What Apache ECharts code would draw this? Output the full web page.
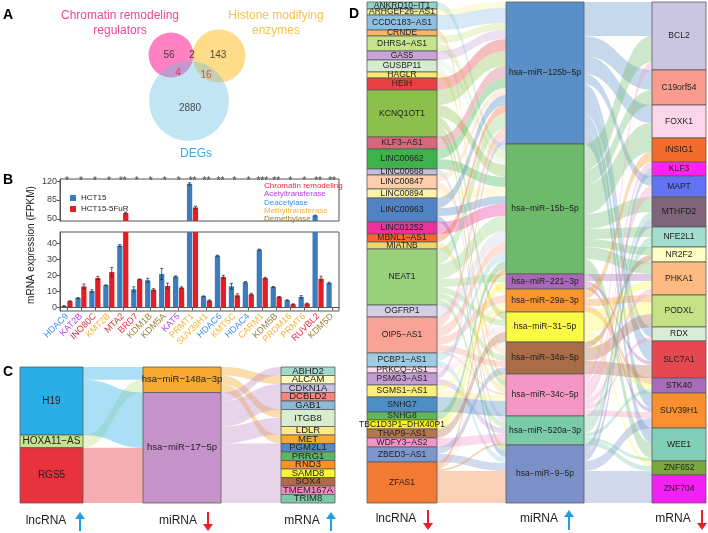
<!DOCTYPE html>
<html><head><meta charset="utf-8">
<script src="https://cdn.jsdelivr.net/npm/echarts@6/dist/echarts.min.js"></script>
<style>html,body{margin:0;padding:0;background:#fff}#c{width:708px;height:533px}</style>
</head><body><div id="c"></div>
<script>
// ================= DATA =================
// Panel A: Venn region counts (CR only, CR∩HM, HM only, CR∩DEG, HM∩DEG, DEG only)
const vennCounts = [56, 2, 143, 4, 16, 2880];

// Panel B
const genes = ['HDAC9','KAT2B','INO80C','KMT2B','MTA2','BRD7','KDM1B','KDM5A','KAT5','PRMT1','SUV39H1','HDAC6','KMT5C','HDAC4','CARM1','KDM5B','PRDM16','PRMT6','RUVBL2','KDM5D'];
const geneClass = ['DA','AT','CR','MT','CR','CR','DM','DM','AT','MT','MT','DA','MT','DA','MT','DM','MT','MT','CR','DM'];
const hct15    = [0.8, 5.8, 10.2, 13.8, 38.5, 11.3, 16.9, 20.8, 19.2, 115, 6.9, 32.2, 13.1, 15.6, 36, 12.7, 4.4, 6.5, 56, 15.2];
const hct15Err = [0.2, 0.3, 0.8, 0.2, 0.6, 1.5, 1.2, 3.5, 0.4, 2.0, 0.2, 0.3, 1.8, 0.5, 0.3, 0.3, 0.3, 0.8, 0.8, 0.5];
const hct15R    = [3.8, 13, 18.3, 22, 61, 17.5, 11, 13.3, 12.3, 71, 4.2, 19, 7.5, 8.1, 18.3, 6.5, 1.9, 2.3, 17.9, 0.1];
const hct15RErr = [0.3, 1.5, 1.0, 2.8, 1.5, 0.2, 0.6, 1.8, 0.5, 2.5, 0.4, 1.0, 0.9, 0.6, 0.5, 0.2, 0.3, 0.3, 1.5, 0.0];
const stars = ['*','*','*','*','**','*','*','*','*','**','**','**','*','*','***','**','*','*','**','**'];
const bTopTicks = [50, 85, 120];
const bBottomTicks = [0, 10, 20, 30, 40];
const classNames = ['Chromatin remodeling','Acetyltransferase','Deacetylase','Methyltransferase','Demethylase'];

// Panel C
const cLnc = ['H19','HOXA11-AS','RGS5'];
const cMi = ['hsa-miR-148a-3p','hsa-miR-17-5p'];
const cMrna = ['ABHD2','ALCAM','CDKN1A','DCBLD2','GAB1','ITGB8','LDLR','MET','PGM2L1','PRRG1','RND3','SAMD8','SOX4','TMEM167A','TRIM8'];
const cLncMi = [['H19','hsa-miR-148a-3p',1.5],['HOXA11-AS','hsa-miR-148a-3p',1.5],['H19','hsa-miR-17-5p',6.5],['RGS5','hsa-miR-17-5p',6.5]];
const cMiMrna = [['hsa-miR-148a-3p','ALCAM',1],['hsa-miR-148a-3p','ITGB8',1],['hsa-miR-148a-3p','MET',1],
 ['hsa-miR-17-5p','ABHD2',1],['hsa-miR-17-5p','CDKN1A',1],['hsa-miR-17-5p','DCBLD2',1],['hsa-miR-17-5p','GAB1',1],['hsa-miR-17-5p','ITGB8',1],
 ['hsa-miR-17-5p','LDLR',1],['hsa-miR-17-5p','PGM2L1',1],['hsa-miR-17-5p','PRRG1',1],['hsa-miR-17-5p','RND3',1],['hsa-miR-17-5p','SAMD8',1],
 ['hsa-miR-17-5p','SOX4',1],['hsa-miR-17-5p','TMEM167A',1],['hsa-miR-17-5p','TRIM8',1]];

// Panel D
const dLnc = ['ANKRD10-IT1','ARHGEF26-AS1','CCDC183-AS1','CRNDE','DHRS4-AS1','GAS5','GUSBP11','HAGLR','HEIH','KCNQ1OT1','KLF3-AS1','LINC00662','LINC00668','LINC00847','LINC00894','LINC00963','LINC01252','MBNL1-AS1','MIATNB','NEAT1','OGFRP1','OIP5-AS1','PCBP1-AS1','PRKCQ-AS1','PSMG3-AS1','SGMS1-AS1','SNHG7','SNHG8','TBC1D3P1-DHX40P1','THAP9-AS1','WDFY3-AS2','ZBED3-AS1','ZFAS1'];
const dMi = ['hsa-miR-125b-5p','hsa-miR-15b-5p','hsa-miR-221-3p','hsa-miR-29a-3p','hsa-miR-31-5p','hsa-miR-34a-5p','hsa-miR-34c-5p','hsa-miR-520a-3p','hsa-miR-9-5p'];
const dMrna = ['BCL2','C19orf54','FOXK1','INSIG1','KLF3','MAPT','MTHFD2','NFE2L1','NR2F2','PHKA1','PODXL','RDX','SLC7A1','STK40','SUV39H1','WEE1','ZNF652','ZNF704'];
const dLncMi = [
 ['ANKRD10-IT1','hsa-miR-15b-5p',7],
 ['ARHGEF26-AS1','hsa-miR-125b-5p',6],
 ['CCDC183-AS1','hsa-miR-125b-5p',15],
 ['CRNDE','hsa-miR-34c-5p',6],
 ['DHRS4-AS1','hsa-miR-125b-5p',7],['DHRS4-AS1','hsa-miR-15b-5p',8],
 ['GAS5','hsa-miR-125b-5p',9],
 ['GUSBP11','hsa-miR-34a-5p',6],['GUSBP11','hsa-miR-15b-5p',6],
 ['HAGLR','hsa-miR-29a-3p',6],
 ['HEIH','hsa-miR-125b-5p',12],
 ['KCNQ1OT1','hsa-miR-125b-5p',15],['KCNQ1OT1','hsa-miR-15b-5p',12],['KCNQ1OT1','hsa-miR-31-5p',8],['KCNQ1OT1','hsa-miR-34c-5p',6],['KCNQ1OT1','hsa-miR-9-5p',6],
 ['KLF3-AS1','hsa-miR-125b-5p',12],
 ['LINC00662','hsa-miR-125b-5p',10],['LINC00662','hsa-miR-15b-5p',10],
 ['LINC00668','hsa-miR-520a-3p',6],
 ['LINC00847','hsa-miR-125b-5p',7],['LINC00847','hsa-miR-34a-5p',7],
 ['LINC00894','hsa-miR-15b-5p',9],
 ['LINC00963','hsa-miR-125b-5p',10],['LINC00963','hsa-miR-15b-5p',8],['LINC00963','hsa-miR-9-5p',6],
 ['LINC01252','hsa-miR-15b-5p',12],
 ['MBNL1-AS1','hsa-miR-125b-5p',8],
 ['MIATNB','hsa-miR-34c-5p',7],
 ['NEAT1','hsa-miR-125b-5p',15],['NEAT1','hsa-miR-15b-5p',15],['NEAT1','hsa-miR-221-3p',8],['NEAT1','hsa-miR-31-5p',6],['NEAT1','hsa-miR-34a-5p',6],['NEAT1','hsa-miR-520a-3p',6],
 ['OGFRP1','hsa-miR-15b-5p',12],
 ['OIP5-AS1','hsa-miR-125b-5p',10],['OIP5-AS1','hsa-miR-15b-5p',10],['OIP5-AS1','hsa-miR-29a-3p',8],['OIP5-AS1','hsa-miR-34a-5p',6],['OIP5-AS1','hsa-miR-34c-5p',2],
 ['PCBP1-AS1','hsa-miR-15b-5p',8],['PCBP1-AS1','hsa-miR-9-5p',6],
 ['PRKCQ-AS1','hsa-miR-31-5p',6],
 ['PSMG3-AS1','hsa-miR-125b-5p',6],['PSMG3-AS1','hsa-miR-520a-3p',6],
 ['SGMS1-AS1','hsa-miR-34c-5p',6],['SGMS1-AS1','hsa-miR-29a-3p',6],
 ['SNHG7','hsa-miR-34c-5p',15],
 ['SNHG8','hsa-miR-15b-5p',8],
 ['TBC1D3P1-DHX40P1','hsa-miR-221-3p',7],['TBC1D3P1-DHX40P1','hsa-miR-29a-3p',2],
 ['THAP9-AS1','hsa-miR-31-5p',9],
 ['WDFY3-AS2','hsa-miR-520a-3p',9],
 ['ZBED3-AS1','hsa-miR-34a-5p',7],['ZBED3-AS1','hsa-miR-9-5p',8],
 ['ZFAS1','hsa-miR-15b-5p',5],['ZFAS1','hsa-miR-29a-3p',1],['ZFAS1','hsa-miR-31-5p',1],['ZFAS1','hsa-miR-520a-3p',2],['ZFAS1','hsa-miR-9-5p',32]
];
const dMiMrna = [
 ['hsa-miR-125b-5p','BCL2',34],['hsa-miR-125b-5p','C19orf54',20],['hsa-miR-125b-5p','FOXK1',18],['hsa-miR-125b-5p','MAPT',10],['hsa-miR-125b-5p','RDX',10],['hsa-miR-125b-5p','SLC7A1',20],['hsa-miR-125b-5p','SUV39H1',15],['hsa-miR-125b-5p','WEE1',15],
 ['hsa-miR-15b-5p','BCL2',26],['hsa-miR-15b-5p','C19orf54',15],['hsa-miR-15b-5p','FOXK1',15],['hsa-miR-15b-5p','INSIG1',14],['hsa-miR-15b-5p','MTHFD2',15],['hsa-miR-15b-5p','NFE2L1',10],['hsa-miR-15b-5p','NR2F2',8],['hsa-miR-15b-5p','PHKA1',12],['hsa-miR-15b-5p','WEE1',15],
 ['hsa-miR-221-3p','PHKA1',7],['hsa-miR-221-3p','SLC7A1',4],['hsa-miR-221-3p','SUV39H1',4],
 ['hsa-miR-29a-3p','INSIG1',10],['hsa-miR-29a-3p','PODXL',7],['hsa-miR-29a-3p','STK40',6],
 ['hsa-miR-31-5p','PHKA1',8],['hsa-miR-31-5p','PODXL',12],['hsa-miR-31-5p','STK40',5],['hsa-miR-31-5p','ZNF652',5],
 ['hsa-miR-34a-5p','NR2F2',6],['hsa-miR-34a-5p','PODXL',13],['hsa-miR-34a-5p','SLC7A1',13],
 ['hsa-miR-34c-5p','BCL2',8],['hsa-miR-34c-5p','KLF3',6],['hsa-miR-34c-5p','MAPT',11],['hsa-miR-34c-5p','NR2F2',1],['hsa-miR-34c-5p','PHKA1',6],['hsa-miR-34c-5p','RDX',4],['hsa-miR-34c-5p','SUV39H1',6],
 ['hsa-miR-520a-3p','MTHFD2',7],['hsa-miR-520a-3p','NFE2L1',10],['hsa-miR-520a-3p','STK40',4],['hsa-miR-520a-3p','WEE1',3],['hsa-miR-520a-3p','ZNF652',5],
 ['hsa-miR-9-5p','KLF3',8],['hsa-miR-9-5p','MTHFD2',8],['hsa-miR-9-5p','SUV39H1',10],['hsa-miR-9-5p','ZNF652',4],['hsa-miR-9-5p','ZNF704',28]
];

// ================= STYLES =================
const FONT = '"Liberation Sans", Arial, sans-serif';
const classColor = {CR:'#e8283c', AT:'#b23ee8', DA:'#3d8ef0', MT:'#f9b234', DM:'#9b7a2e'};
const classOrder = ['CR','AT','DA','MT','DM'];
const nodeColor = {
 'H19':'#2aaee6','HOXA11-AS':'#c6e48c','RGS5':'#e8323e',
 'hsa-miR-148a-3p':'#f5a930','hsa-miR-17-5p':'#c593c9',
 'ABHD2':'#a3d9cc','ALCAM':'#fffbbe','CDKN1A':'#c6c1dd','DCBLD2':'#f8847c','GAB1':'#8fb9d9','ITGB8':'#d8ecce','LDLR':'#fde98c','MET':'#f5a930',
 'PGM2L1':'#5189c3','PRRG1':'#5cb85c','RND3':'#f7931e','SAMD8':'#f8f43a','SOX4':'#b06a45','TMEM167A':'#f28dc4','TRIM8':'#7cc8aa',
 'ANKRD10-IT1':'#8fd4c8','ARHGEF26-AS1':'#f6ee9a','CCDC183-AS1':'#8fc0e2','CRNDE':'#fcb466','DHRS4-AS1':'#c5e38a','GAS5':'#c9a3d9','GUSBP11':'#d4ecd0','HAGLR':'#fdeb6e','HEIH':'#e8403e','KCNQ1OT1':'#8cbf4b','KLF3-AS1':'#d7687b','LINC00662':'#3db24a','LINC00668':'#c2bedc','LINC00847':'#fdcdab','LINC00894':'#fff3a8','LINC00963':'#5183c4','LINC01252':'#ef2f9c','MBNL1-AS1':'#f6672f','MIATNB':'#ecd86a','NEAT1':'#99d17d','OGFRP1':'#d2cee6','OIP5-AS1':'#f9a296','PCBP1-AS1':'#9ecbe3','PRKCQ-AS1':'#fbdbe9','PSMG3-AS1':'#c49cd2','SGMS1-AS1':'#fdf07a','SNHG7':'#4c8fc7','SNHG8':'#5fb760','TBC1D3P1-DHX40P1':'#f8f314','THAP9-AS1':'#b5744b','WDFY3-AS2':'#f494cb','ZBED3-AS1':'#7d97cc','ZFAS1':'#f27a32',
 'hsa-miR-125b-5p':'#5b8fc7','hsa-miR-15b-5p':'#6cba6a','hsa-miR-221-3p':'#a868b8','hsa-miR-29a-3p':'#f7952f','hsa-miR-31-5p':'#fafa44','hsa-miR-34a-5p':'#a86c47','hsa-miR-34c-5p':'#f597c6','hsa-miR-520a-3p':'#7bcaa9','hsa-miR-9-5p':'#7b8fc9',
 'BCL2':'#cac6e1','C19orf54':'#fb9b8d','FOXK1':'#fcd6e8','INSIG1':'#f36c2b','KLF3':'#ff22f2','MAPT':'#6173f4','MTHFD2':'#7f6378','NFE2L1':'#a2ddcf','NR2F2':'#ffffc2','PHKA1':'#fdbb82','PODXL':'#c3e286','RDX':'#d9edd6','SLC7A1':'#e6484f','STK40':'#a96cb8','SUV39H1':'#f98f2e','WEE1':'#80cfb6','ZNF652':'#7ba83b','ZNF704':'#f41ff5'
};

// ================= BUILD =================
const chart = echarts.init(document.getElementById('c'), null, {renderer:'canvas'});

function node(n, show, fs) {
  if (show) return {name:n, itemStyle:{color:nodeColor[n], borderColor:'#5a5a5a', borderWidth:0.8},
    label:{show:true, position:'inside', fontSize:fs, color:'#222', fontFamily:FONT,
      formatter: p => p.name.replace(/-/g,'\u2212')}};
  return {name:n, itemStyle:{color:'rgba(0,0,0,0)', borderWidth:0}, label:{show:false}};
}
function sankey(leftN, rightN, links, showL, showR, x, w, top, h, nw, fs, op) {
  return {
    type:'sankey', left:x, top:top, width:w, height:h, nodeWidth:nw, nodeGap:0,
    layoutIterations:0, draggable:false, silent:true, emphasis:{disabled:true}, animation:false,
    data: leftN.map(n=>node(n,showL,fs)).concat(rightN.map(n=>node(n,showR,fs))),
    links: links.map(l=>({source:l[0], target:l[1], value:l[2]})),
    lineStyle:{color:'source', opacity:op, curveness:0.5}
  };
}

// bar geometry helpers for error bars
const catGap = 0.2, barGapR = 0.12;
function errSeries(xi, yi, name) {
  const d = [];
  genes.forEach((g,i)=>{ d.push([i, hct15[i], hct15Err[i], -1]); d.push([i, hct15R[i], hct15RErr[i], 1]); });
  return {
    type:'custom', name:name, xAxisIndex:xi, yAxisIndex:yi, clip:true, silent:true, data:d, z:5,
    encode:{x:0, y:1},
    renderItem:(params, api)=>{
      const i = api.value(0), v = api.value(1), e = api.value(2), s = api.value(3);
      if (e <= 0) return null;
      const band = api.size([1,0])[0];
      const bw = band*(1-catGap)/(2+barGapR);
      const off = s*(bw*(1+barGapR))/2;
      const p1 = api.coord([i, v+e]), p2 = api.coord([i, v-e]);
      const x = p1[0]+off, cw = 1.5;
      const st = {stroke:'#333', lineWidth:0.8};
      return {type:'group', children:[
        {type:'line', shape:{x1:x, y1:p1[1], x2:x, y2:p2[1]}, style:st},
        {type:'line', shape:{x1:x-cw, y1:p1[1], x2:x+cw, y2:p1[1]}, style:st},
        {type:'line', shape:{x1:x-cw, y1:p2[1], x2:x+cw, y2:p2[1]}, style:st}
      ]};
    }
  };
}

// Venn layout (pixel space of a hidden grid)
const vennCircles = [
  {value:[171,55], symbolSize:45, itemStyle:{color:'#ff60b4'}},
  {value:[219,56], symbolSize:53, itemStyle:{color:'rgba(255,182,8,0.6)'}},
  {value:[189,101], symbolSize:80, itemStyle:{color:'rgba(103,191,225,0.5)'}}
];
const vennLabelPos = [[169,55],[192,55],[218,55],[178,73],[206,75],[190,108]];
const vennLabelRed = [false,false,false,true,true,false];

function arrow(x, y1, y2, up, color) {
  const tip = up ? y1 : y2, base = up ? y1+7 : y2-7;
  return {type:'group', children:[
    {type:'line', shape:{x1:x, y1:up?base:y1, x2:x, y2:up?y2:base}, style:{stroke:color, lineWidth:2}},
    {type:'polygon', shape:{points:[[x-5,base],[x+5,base],[x,tip]]}, style:{fill:color}}
  ]};
}
function txt(x, y, s, opt) {
  return Object.assign({type:'text', x:x, y:y, style:Object.assign({text:s, font:'12px '+FONT, fill:'#222', align:'center', verticalAlign:'middle'}, opt||{})});
}

const graphics = [
  txt(8, 15, 'A', {font:'bold 14px '+FONT, fill:'#000'}),
  txt(8, 180, 'B', {font:'bold 14px '+FONT, fill:'#000'}),
  txt(8, 372, 'C', {font:'bold 14px '+FONT, fill:'#000'}),
  txt(354, 14, 'D', {font:'bold 14px '+FONT, fill:'#000'}),
  txt(120, 16, 'Chromatin remodeling', {fill:'#f0449a'}),
  txt(120, 31, 'regulators', {fill:'#f0449a'}),
  txt(276, 16, 'Histone modifying', {fill:'#f8c24e'}),
  txt(276, 31, 'enzymes', {fill:'#f8c24e'}),
  txt(196, 154, 'DEGs', {fill:'#3aa8e0'}),
  {type:'text', x:31, y:245, rotation:Math.PI/2, style:{text:'mRNA expression (FPKM)', font:'10px '+FONT, fill:'#222', align:'center', verticalAlign:'middle'}},
  txt(46, 521, 'lncRNA'), arrow(80, 512, 531, true, '#1ea0e6'),
  txt(178, 521, 'miRNA'), arrow(208, 512, 531, false, '#e8202a'),
  txt(302, 521, 'mRNA'), arrow(331, 512, 531, true, '#1ea0e6'),
  txt(396, 519, 'lncRNA'), arrow(428, 510, 530, false, '#e8202a'),
  txt(539, 519, 'miRNA'), arrow(569, 510, 530, true, '#1ea0e6'),
  txt(673, 519, 'mRNA'), arrow(702, 510, 530, false, '#e8202a')
];
classNames.forEach((c,i)=>{
  graphics.push(txt(264, 186+i*8.2, c, {font:'8px '+FONT, fill:classColor[classOrder[i]], align:'left'}));
});

const option = {
  animation:false,
  backgroundColor:'#fff',
  textStyle:{fontFamily:FONT},
  legend:{data:['HCT15','HCT15-5FuR'], orient:'vertical', left:65, top:189, itemWidth:6, itemHeight:6, itemGap:3,
    icon:'rect', textStyle:{fontSize:8, color:'#222'}},
  grid:[
    {left:0, top:0, width:708, height:533, show:false},
    {left:60, top:179, width:279, height:42, show:true, borderColor:'#555', borderWidth:1},
    {left:60, top:232, width:279, height:79, show:true, borderColor:'#555', borderWidth:1}
  ],
  xAxis:[
    {gridIndex:0, type:'value', min:0, max:708, show:false},
    {gridIndex:1, type:'category', data:genes, axisLine:{show:false}, axisTick:{show:false}, axisLabel:{show:false}},
    {gridIndex:2, type:'category', data:genes, axisLine:{show:true, lineStyle:{color:'#555'}},
      axisTick:{show:true, alignWithLabel:true, length:3, lineStyle:{color:'#555'}},
      axisLabel:{interval:0, rotate:45, fontSize:9, margin:4, fontFamily:FONT,
        color:(v,i)=>classColor[geneClass[i]]}}
  ],
  yAxis:[
    {gridIndex:0, type:'value', min:0, max:533, inverse:true, show:false},
    {gridIndex:1, type:'value', min:46, max:124, splitLine:{show:false},
      axisLine:{show:true, lineStyle:{color:'#555'}},
      axisTick:{show:true, length:3, customValues:bTopTicks, lineStyle:{color:'#555'}},
      axisLabel:{customValues:bTopTicks, fontSize:9, color:'#444', margin:3}},
    {gridIndex:2, type:'value', min:-2.3, max:47, splitLine:{show:false},
      axisLine:{show:true, lineStyle:{color:'#555'}},
      axisTick:{show:true, length:3, customValues:bBottomTicks, lineStyle:{color:'#555'}},
      axisLabel:{customValues:bBottomTicks, fontSize:9, color:'#444', margin:3}}
  ],
  graphic:graphics,
  series:[
    {type:'scatter', xAxisIndex:0, yAxisIndex:0, silent:true, data:vennCircles, z:1},
    {type:'scatter', xAxisIndex:0, yAxisIndex:0, silent:true, symbolSize:0, z:3,
      data: vennCounts.map((c,i)=>({value:vennLabelPos[i], label:{show:true, position:'inside', formatter:String(c), fontSize:10,
        color: vennLabelRed[i] ? '#e8283c' : '#222'}}))},
    {type:'bar', name:'HCT15', xAxisIndex:1, yAxisIndex:1, data:hct15, itemStyle:{color:'#3a7cbd'}, barCategoryGap:'20%', barGap:'12%', clip:true},
    {type:'bar', name:'HCT15-5FuR', xAxisIndex:1, yAxisIndex:1, data:hct15R, itemStyle:{color:'#e51e25'}, barCategoryGap:'20%', barGap:'12%', clip:true},
    errSeries(1,1,'errTop'),
    {type:'scatter', xAxisIndex:1, yAxisIndex:1, symbolSize:0, silent:true,
      data: stars.map((s,i)=>({value:[i,119.5], label:{show:true, position:'inside', formatter:s, fontSize:10, color:'#222'}}))},
    {type:'bar', name:'HCT15', xAxisIndex:2, yAxisIndex:2, data:hct15, itemStyle:{color:'#3a7cbd'}, barCategoryGap:'20%', barGap:'12%', clip:true},
    {type:'bar', name:'HCT15-5FuR', xAxisIndex:2, yAxisIndex:2, data:hct15R, itemStyle:{color:'#e51e25'}, barCategoryGap:'20%', barGap:'12%', clip:true},
    errSeries(2,2,'errBottom'),
    // Panel C
    sankey(cLnc, cMi, cLncMi, true, false, 20, 206-20, 367, 136, 63, 10, 0.4),
    sankey(cMi, cMrna, cMiMrna, true, false, 143, 359-143, 367, 136, 78, 9.5, 0.4),
    sankey(cMi, cMrna, cMiMrna, false, true, 143, 335-143, 367, 136, 54, 9.5, 0),
    // Panel D
    sankey(dLnc, dMi, dLncMi, true, false, 367, 576-367, 2, 501, 70, 8.5, 0.35),
    sankey(dMi, dMrna, dMiMrna, true, false, 506, 730-506, 2, 501, 78, 8.5, 0.35),
    sankey(dMi, dMrna, dMiMrna, false, true, 506, 706-506, 2, 501, 54, 8.5, 0)
  ]
};
chart.setOption(option);
</script></body></html>
